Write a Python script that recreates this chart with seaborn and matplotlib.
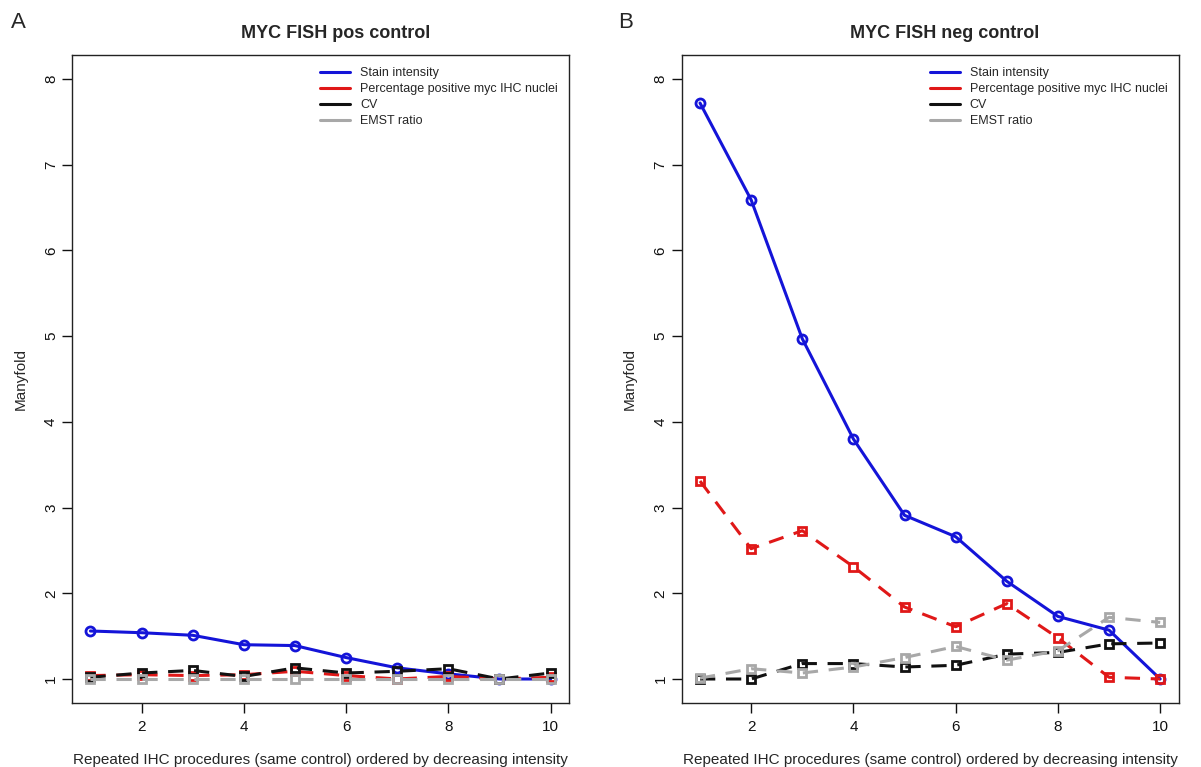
import matplotlib
matplotlib.use("Agg")
import matplotlib.pyplot as plt
import seaborn as sns
import numpy as np
from matplotlib.lines import Line2D

sns.set_style("ticks")
plt.rcParams['font.family'] = ['Liberation Sans', 'DejaVu Sans']

procedures = list(range(1, 11))
series_names = ["Stain intensity", "Percentage positive myc IHC nuclei", "CV", "EMST ratio"]

# Panel A: MYC FISH pos control
pos_stain = [1.56, 1.54, 1.51, 1.40, 1.39, 1.25, 1.13, 1.06, 1.00, 1.00]
pos_pct   = [1.04, 1.05, 1.04, 1.05, 1.09, 1.04, 1.00, 1.03, 1.00, 1.02]
pos_cv    = [1.02, 1.07, 1.10, 1.03, 1.13, 1.07, 1.09, 1.12, 1.00, 1.07]
pos_emst  = [1.00, 1.00, 1.00, 1.00, 1.00, 1.00, 1.00, 1.00, 1.00, 1.00]

# Panel B: MYC FISH neg control
neg_stain = [7.72, 6.59, 4.97, 3.80, 2.91, 2.66, 2.14, 1.73, 1.57, 1.00]
neg_pct   = [3.31, 2.52, 2.73, 2.31, 1.84, 1.61, 1.88, 1.48, 1.02, 1.00]
neg_cv    = [1.00, 1.00, 1.18, 1.18, 1.14, 1.16, 1.29, 1.31, 1.41, 1.42]
neg_emst  = [1.01, 1.12, 1.07, 1.14, 1.25, 1.38, 1.22, 1.33, 1.72, 1.66]

titles = ["MYC FISH pos control", "MYC FISH neg control"]
panel_letters = ["A", "B"]
x_ticks = [2, 4, 6, 8, 10]
y_ticks = [1, 2, 3, 4, 5, 6, 7, 8]

colors = ["#1414d8", "#e01818", "#111111", "#a8a8a8"]
markers = ["o", "s", "s", "s"]
dashed = [False, True, True, True]

fig = plt.figure(figsize=(12.01, 7.67), dpi=100)
W, H = 1201, 767
ax_w = 497 / W
ax_h = (703 - 55) / H
ax_b = 1 - 703 / H
lefts = [72 / W, 681.6 / W]

panels = [
    [pos_stain, pos_pct, pos_cv, pos_emst],
    [neg_stain, neg_pct, neg_cv, neg_emst],
]

for i, data in enumerate(panels):
    ax = fig.add_axes([lefts[i], ax_b, ax_w, ax_h])
    for j, ys in enumerate(data):
        sns.lineplot(x=procedures, y=ys, ax=ax, color=colors[j], marker=markers[j],
                     markersize=6.5 if markers[j] == "o" else 5.2,
                     markerfacecolor="none", markeredgecolor=colors[j],
                     markeredgewidth=2.0, linewidth=2.2, sort=False)
        line = ax.lines[-1]
        if dashed[j]:
            line.set_dashes((5, 3.5))
    ax.set_xlim(0.64, 10.36)
    ax.set_ylim(0.72, 8.28)
    ax.set_xticks(x_ticks)
    ax.set_yticks(y_ticks)
    ax.set_xticklabels([str(t) for t in x_ticks], fontsize=11)
    ax.set_yticklabels([str(t) for t in y_ticks], fontsize=11, rotation=90, va="center")
    ax.tick_params(axis="x", direction="out", length=7, width=1, colors="#111111", pad=5)
    ax.tick_params(axis="y", direction="out", length=7, width=1, colors="#111111", pad=3)
    for sp in ax.spines.values():
        sp.set_visible(True)
        sp.set_color("#222222")
        sp.set_linewidth(1.0)
    ax.set_xlabel("Repeated IHC procedures (same control) ordered by decreasing intensity",
                  fontsize=11, labelpad=14)
    ax.set_ylabel("Manyfold", fontsize=11, labelpad=12)
    ax.set_title(titles[i], fontsize=13, fontweight="bold", x=0.53, pad=12)
    handles = [Line2D([0], [0], color=c, lw=2.2) for c in colors]
    ax.legend(handles, series_names, loc="upper left", bbox_to_anchor=(0.49, 0.988),
              frameon=False, fontsize=9, handlelength=2.4, handletextpad=0.8,
              labelspacing=0.32, borderaxespad=0.0, borderpad=0.35)
    fig.text((18 if i == 0 else 626) / W, 1 - 22 / H, panel_letters[i], fontsize=16,
             ha="center", va="center")

fig.savefig("out.png", dpi=100)
